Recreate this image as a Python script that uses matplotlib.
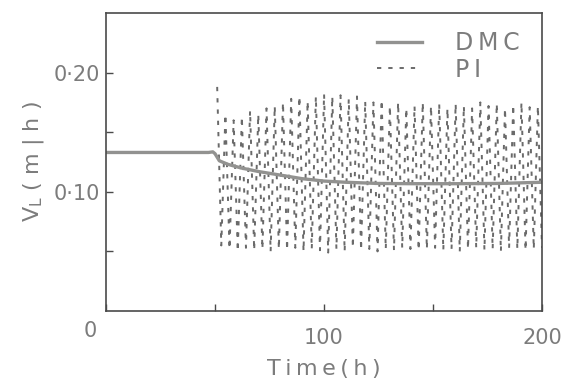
#!/usr/bin/env python3
"""Liquid velocity V_L under DMC and PI control (scanned figure redraw)."""

import numpy as np
import matplotlib
matplotlib.use('Agg')
import matplotlib.pyplot as plt

# DMC response (smooth)
dmc_time = [0, 47, 49, 50, 52, 56, 62, 70, 80, 90, 100, 110, 125, 140, 160, 180, 200]
dmc_vl = [0.133, 0.133, 0.1335, 0.132, 0.126, 0.123, 0.120, 0.117, 0.114, 0.111,
          0.109, 0.108, 0.107, 0.1068, 0.1068, 0.107, 0.108]

# PI response: fast oscillation, read as peak / trough per cycle
pi_start, pi_end = 51, 200
pi_high = [0.188, 0.165, 0.160, 0.163, 0.168, 0.165, 0.170, 0.172,
           0.175, 0.178, 0.180, 0.176, 0.180, 0.182, 0.180, 0.181,
           0.178, 0.180, 0.176, 0.175, 0.177, 0.172, 0.175, 0.170,
           0.172, 0.175, 0.172, 0.174, 0.170, 0.174, 0.172, 0.170,
           0.175, 0.172, 0.174, 0.170, 0.173, 0.175, 0.171, 0.172]
pi_low = [0.055, 0.052, 0.050, 0.053, 0.051, 0.052, 0.050, 0.052,
          0.051, 0.053, 0.050, 0.052, 0.051, 0.049, 0.052, 0.050,
          0.053, 0.051, 0.052, 0.050, 0.052, 0.051, 0.053, 0.052,
          0.051, 0.052, 0.053, 0.051, 0.052, 0.050, 0.052, 0.053,
          0.051, 0.052, 0.050, 0.053, 0.052, 0.051, 0.052, 0.053]

xtick_pos = [0, 50, 100, 150, 200]
xtick_labels = ['', '', '100', '', '200']
ytick_pos = [0.05, 0.10, 0.15, 0.20]
ytick_labels = ['', '0\u00b710', '', '0\u00b720']

TXT = '#7c7c7c'
INK = '#4a4a4a'

fig = plt.figure(figsize=(5.66, 3.87), dpi=100)
ax = fig.add_axes([106 / 566, 76 / 387, 436 / 566, 298 / 387])

pi_vals = np.ravel(np.column_stack([pi_high, pi_low]))
pi_time = np.linspace(pi_start, pi_end, len(pi_vals))

pi_line, = ax.plot(pi_time, pi_vals, color='#6a6a6a', linewidth=1.4, label='P\u2009I')
pi_line.set_dashes((2.2, 3.6))
dmc_line, = ax.plot(dmc_time, dmc_vl, color='#929290', linewidth=2.4, label='D\u2009M\u2009C')

ax.set_xlim(0, 200)
ax.set_ylim(0, 0.25)

ax.set_xticks(xtick_pos)
ax.set_xticklabels(xtick_labels)
ax.set_yticks(ytick_pos)
ax.set_yticklabels(ytick_labels)
ax.tick_params(axis='x', direction='in', length=5, width=1, color=INK,
               labelsize=15, labelcolor=TXT, pad=12)
ax.tick_params(axis='y', direction='in', length=5, width=1, color=INK,
               labelsize=15, labelcolor=TXT, pad=4)

for sp in ax.spines.values():
    sp.set_color(INK)
    sp.set_linewidth(1.2)

# origin label sits below-left of the corner
ax.annotate('0', xy=(0, 0), xycoords='data', xytext=(-16, -20),
            textcoords='offset pixels', ha='center', va='center',
            fontsize=15, color=TXT)

ax.set_xlabel('T\u2009i\u2009m\u2009e\u2009(\u2009h\u2009)', fontsize=16, color=TXT, labelpad=8)
ax.set_ylabel(r'$\mathregular{V_L}$ ( m | h )', fontsize=16, color=TXT, labelpad=6)

leg = ax.legend(handles=[dmc_line, pi_line], loc='upper right',
                bbox_to_anchor=(0.97, 0.97), frameon=False, fontsize=17,
                handlelength=1.9, handletextpad=1.4, labelspacing=0.1,
                borderaxespad=0)
for t in leg.get_texts():
    t.set_color(TXT)

fig.savefig('out.png', dpi=100)
